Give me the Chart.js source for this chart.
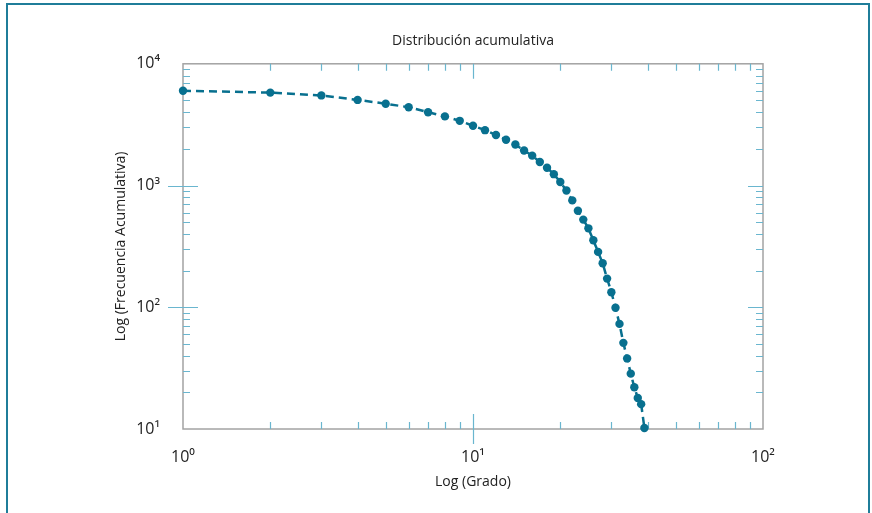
<!DOCTYPE html>
<html>
<head>
<meta charset="utf-8">
<script src="https://cdn.jsdelivr.net/npm/chart.js@4.4.0/dist/chart.umd.min.js"></script>
<style>
  html, body { margin: 0; padding: 0; background: #fff; }
  #wrap { position: relative; width: 872px; height: 513px; overflow: hidden; }
  #frame { position: absolute; left: 6px; top: 3px; width: 864px; height: 600px;
           border: 2px solid #1f7d99; box-sizing: border-box; }
  canvas { position: absolute; left: 0; top: 0; }
</style>
</head>
<body>
<div id="wrap">
  <div id="frame"></div>
  <canvas id="cdfChart" width="872" height="513"></canvas>
</div>
<script>
// --------------------- DATA ------------------------
const grado = [1, 2, 3, 4, 5, 6, 7, 8, 9, 10, 11, 12, 13, 14, 15, 16, 17, 18, 19, 20,
               21, 22, 23, 24, 25, 26, 27, 28, 29, 30, 31, 32, 33, 34, 35, 36, 37, 38, 39];
const frecuenciaAcum = [6000, 5800, 5500, 5050, 4700, 4400, 4000, 3700, 3400, 3100,
                        2850, 2600, 2380, 2170, 1940, 1760, 1560, 1400, 1240, 1070,
                        910, 755, 620, 525, 445, 355, 285, 230, 172, 133,
                        99, 73, 51, 38, 28.5, 22, 18, 16, 10.2];

// tick labels, one per decade
const xDecades = [0, 1, 2];
const xTickLabels = ['10⁰', '10¹', '10²'];
const yDecades = [1, 2, 3, 4];
const yTickLabels = ['10¹', '10²', '10³', '10⁴'];

const LINE_COLOR = '#08708f';
const TICK_COLOR = '#6ab6cf';
const BOX_COLOR = '#a3a3a3';

function isDecade(v) {
    let l = Math.log10(v);
    return Math.abs(l - Math.round(l)) < 1e-9;
}

// 1..9 x 10^k ticks between two decades
function decadeTicks(scale, decades) {
    let ticks = [];
    for (let i = 0; i < decades.length; i++) {
        let base = Math.pow(10, decades[i]);
        if (i === decades.length - 1) { ticks.push({ value: base }); break; }
        for (let s = 1; s <= 9; s++) ticks.push({ value: s * base });
    }
    scale.ticks = ticks;
}

function decadeLabel(decades, labels) {
    return function (value) {
        if (!isDecade(value)) return '';
        let idx = decades.indexOf(Math.round(Math.log10(value)));
        return idx >= 0 ? labels[idx] : '';
    };
}

// --------------------- BOX + TICK MARKS ------------------------
const boxTicks = {
    id: 'boxTicks',
    beforeDatasetsDraw(chart) {
        const { ctx, chartArea: a, scales } = chart;
        ctx.save();
        ctx.strokeStyle = BOX_COLOR;
        ctx.lineWidth = 1.5;
        ctx.strokeRect(a.left, a.top, a.right - a.left, a.bottom - a.top);

        ctx.strokeStyle = TICK_COLOR;
        ctx.lineWidth = 1.2;
        ctx.beginPath();
        scales.x.ticks.forEach(t => {
            let px = Math.round(scales.x.getPixelForValue(t.value)) + 0.5;
            if (px <= a.left + 1 || px >= a.right - 1) return;
            let major = isDecade(t.value);
            let len = major ? 15 : 7;
            ctx.moveTo(px, a.bottom + (major ? 15 : 0));
            ctx.lineTo(px, a.bottom - len);
            ctx.moveTo(px, a.top);
            ctx.lineTo(px, a.top + len);
        });
        scales.y.ticks.forEach(t => {
            let py = Math.round(scales.y.getPixelForValue(t.value)) + 0.5;
            if (py <= a.top + 1 || py >= a.bottom - 1) return;
            let major = isDecade(t.value);
            let len = major ? 15 : 7;
            ctx.moveTo(a.left - (major ? 15 : 0), py);
            ctx.lineTo(a.left + len, py);
            ctx.moveTo(a.right, py);
            ctx.lineTo(a.right - len, py);
        });
        ctx.stroke();
        ctx.restore();
    }
};

// --------------------- CHART ------------------------
const ctx = document.getElementById('cdfChart').getContext('2d');
const cdfChart = new Chart(ctx, {
    type: 'line',
    data: {
        datasets: [{
            label: 'Distribución acumulativa',
            data: grado.map((g, i) => ({ x: g, y: frecuenciaAcum[i] })),
            borderColor: LINE_COLOR,
            backgroundColor: LINE_COLOR,
            borderWidth: 2.5,
            borderDash: [8, 5],
            pointRadius: 4.2,
            pointBorderWidth: 0,
            tension: 0,
            clip: false
        }]
    },
    options: {
        responsive: false,
        animation: false,
        devicePixelRatio: 1,
        layout: { padding: { left: 100, right: 109, top: 0, bottom: 0 } },
        plugins: {
            legend: { display: false },
            tooltip: { enabled: false },
            title: {
                display: true,
                fullSize: false,
                text: 'Distribución acumulativa',
                color: '#222',
                font: { family: 'Open Sans', size: 14, weight: 'normal' },
                padding: { top: 33, bottom: 14 }
            }
        },
        scales: {
            x: {
                type: 'logarithmic',
                min: 1,
                max: 100,
                afterBuildTicks: s => decadeTicks(s, xDecades),
                afterFit: s => { s.height = 84; },
                grid: { display: false, drawTicks: false },
                border: { display: false },
                ticks: {
                    autoSkip: false,
                    maxRotation: 0,
                    padding: 19,
                    color: '#222',
                    font: { family: 'Open Sans', size: 16 },
                    callback: decadeLabel(xDecades, xTickLabels)
                },
                title: {
                    display: true,
                    text: 'Log (Grado)',
                    color: '#222',
                    font: { family: 'Open Sans', size: 14 },
                    padding: { top: 0, bottom: 22.6 }
                }
            },
            y: {
                type: 'logarithmic',
                min: 10,
                max: 10000,
                afterBuildTicks: s => decadeTicks(s, yDecades),
                afterFit: s => { s.width = 83; },
                grid: { display: false, drawTicks: false },
                border: { display: false },
                ticks: {
                    autoSkip: false,
                    padding: 23,
                    color: '#222',
                    font: { family: 'Open Sans', size: 16 },
                    callback: decadeLabel(yDecades, yTickLabels)
                },
                title: {
                    display: true,
                    text: 'Log (Frecuencia Acumulativa)',
                    color: '#222',
                    font: { family: 'Open Sans', size: 14 },
                    padding: { top: 12.6, bottom: 0 }
                }
            }
        }
    },
    plugins: [boxTicks]
});
</script>
</body>
</html>
